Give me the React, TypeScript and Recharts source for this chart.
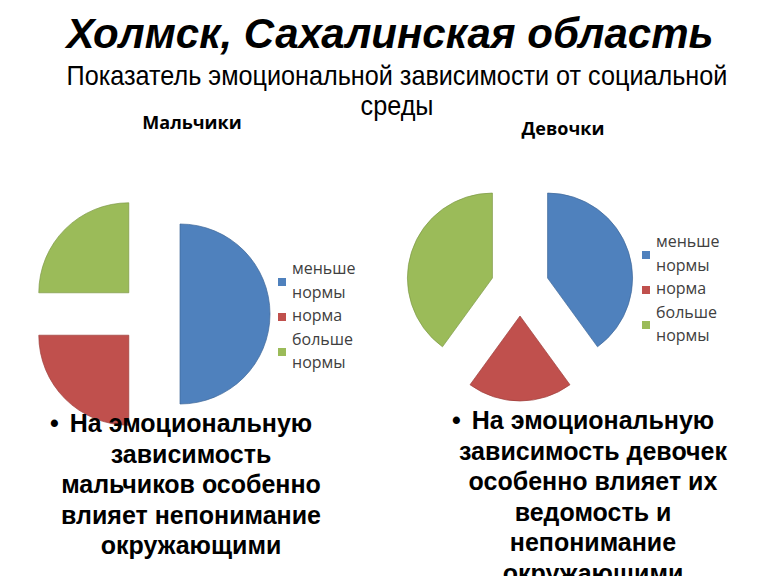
import React from 'react';
import { PieChart, Pie, Sector } from 'recharts';

const categories = ['меньше нормы', 'норма', 'больше нормы'];
const boysValues = [50, 25, 25];
const girlsValues = [40, 20, 40];

const colors = ['#4F81BD', '#C0504D', '#9BBB59'];
const edgeColors = ['#41699A', '#9E403D', '#7E9A48'];

const boysNote = ['На эмоциональную', 'зависимость', 'мальчиков особенно', 'влияет непонимание', 'окружающими'];
const girlsNote = ['На эмоциональную', 'зависимость девочек', 'особенно влияет их', 'ведомость и', 'непонимание', 'окружающими'];

const boysData = categories.map((name, i) => ({ name, value: boysValues[i] }));
const girlsData = categories.map((name, i) => ({ name, value: girlsValues[i] }));

const RAD = Math.PI / 180;

// every slice pulled out from the centre along its mid angle
function explodedSlice(offset: number) {
  return (props: any) => {
    const { cx, cy, startAngle, endAngle, outerRadius, index } = props;
    const mid = (startAngle + endAngle) / 2;
    const dx = offset * Math.cos(-mid * RAD);
    const dy = offset * Math.sin(-mid * RAD);
    return (
      <Sector
        key={`slice-${index}`}
        cx={cx + dx}
        cy={cy + dy}
        innerRadius={0}
        outerRadius={outerRadius}
        startAngle={startAngle}
        endAngle={endAngle}
        fill={colors[index]}
        stroke={edgeColors[index]}
        strokeWidth={0.7}
      />
    );
  };
}

function PieLegend({ left, top }: { left: number; top: number }) {
  return (
    <div
      style={{
        position: 'absolute',
        left,
        top,
        fontFamily: '"Open Sans", sans-serif',
        fontSize: 16,
        lineHeight: '23.5px',
        color: '#404040',
      }}
    >
      {categories.map((c, i) => (
        <div key={c} style={{ position: 'relative', paddingLeft: 14, width: 80 }}>
          <span
            style={{
              position: 'absolute',
              left: 0,
              top: '50%',
              marginTop: -3,
              width: 8,
              height: 8,
              background: colors[i],
            }}
          />
          {c}
        </div>
      ))}
    </div>
  );
}

function Note({ lines, center, top }: { lines: string[]; center: number; top: number }) {
  return (
    <div
      style={{
        position: 'absolute',
        left: center - 200,
        width: 400,
        top,
        textAlign: 'center',
        fontFamily: '"Liberation Sans", Arial, sans-serif',
        fontWeight: 'bold',
        fontSize: 25,
        lineHeight: '30.5px',
        color: '#000',
      }}
    >
      {lines.map((l, i) => (
        <div key={i}>
          <span style={{ position: 'relative' }}>
            {i === 0 && (
              <span style={{ position: 'absolute', right: '100%', marginRight: 11 }}>•</span>
            )}
            {l}
          </span>
        </div>
      ))}
    </div>
  );
}

export default function App() {
  return (
    <div
      style={{
        position: 'absolute',
        left: 0,
        top: 0,
        width: 768,
        height: 576,
        overflow: 'hidden',
        background: '#fff',
      }}
    >
      <PieChart width={768} height={576} margin={{ top: 0, right: 0, bottom: 0, left: 0 }}>
        <Pie
          data={boysData}
          dataKey="value"
          nameKey="name"
          cx={150}
          cy={314}
          outerRadius={90}
          startAngle={90}
          endAngle={-270}
          fill="none"
          stroke="none"
          label={explodedSlice(30)}
          labelLine={false}
          isAnimationActive={false}
        />
        <Pie
          data={girlsData}
          dataKey="value"
          nameKey="name"
          cx={520}
          cy={287}
          outerRadius={85}
          startAngle={90}
          endAngle={-270}
          fill="none"
          stroke="none"
          label={explodedSlice(29)}
          labelLine={false}
          isAnimationActive={false}
        />
      </PieChart>

      <div
        style={{
          position: 'absolute',
          left: 0,
          width: 780,
          top: 13,
          textAlign: 'center',
          fontFamily: '"Liberation Sans", Arial, sans-serif',
          fontWeight: 'bold',
          fontStyle: 'italic',
          fontSize: 42,
          lineHeight: '42px',
          color: '#000',
        }}
      >
        Холмск, Сахалинская область
      </div>
      <div
        style={{
          position: 'absolute',
          left: 0,
          width: 794,
          top: 61,
          textAlign: 'center',
          fontFamily: '"Liberation Sans", Arial, sans-serif',
          fontSize: 28,
          lineHeight: '30px',
          color: '#000',
          transform: 'scaleX(0.9)',
          transformOrigin: '397px 0',
        }}
      >
        Показатель эмоциональной зависимости от социальной
        <br />
        среды
      </div>

      <div
        style={{
          position: 'absolute',
          left: 92,
          width: 200,
          top: 111,
          textAlign: 'center',
          fontFamily: '"Open Sans", sans-serif',
          fontWeight: 'bold',
          fontSize: 18,
          lineHeight: '22px',
          color: '#000',
        }}
      >
        Мальчики
      </div>
      <div
        style={{
          position: 'absolute',
          left: 463,
          width: 200,
          top: 117,
          textAlign: 'center',
          fontFamily: '"Open Sans", sans-serif',
          fontWeight: 'bold',
          fontSize: 18,
          lineHeight: '22px',
          color: '#000',
        }}
      >
        Девочки
      </div>

      <PieLegend left={278} top={257} />
      <PieLegend left={642} top={230} />

      <Note lines={boysNote} center={191} top={408} />
      <Note lines={girlsNote} center={593} top={405} />
    </div>
  );
}
